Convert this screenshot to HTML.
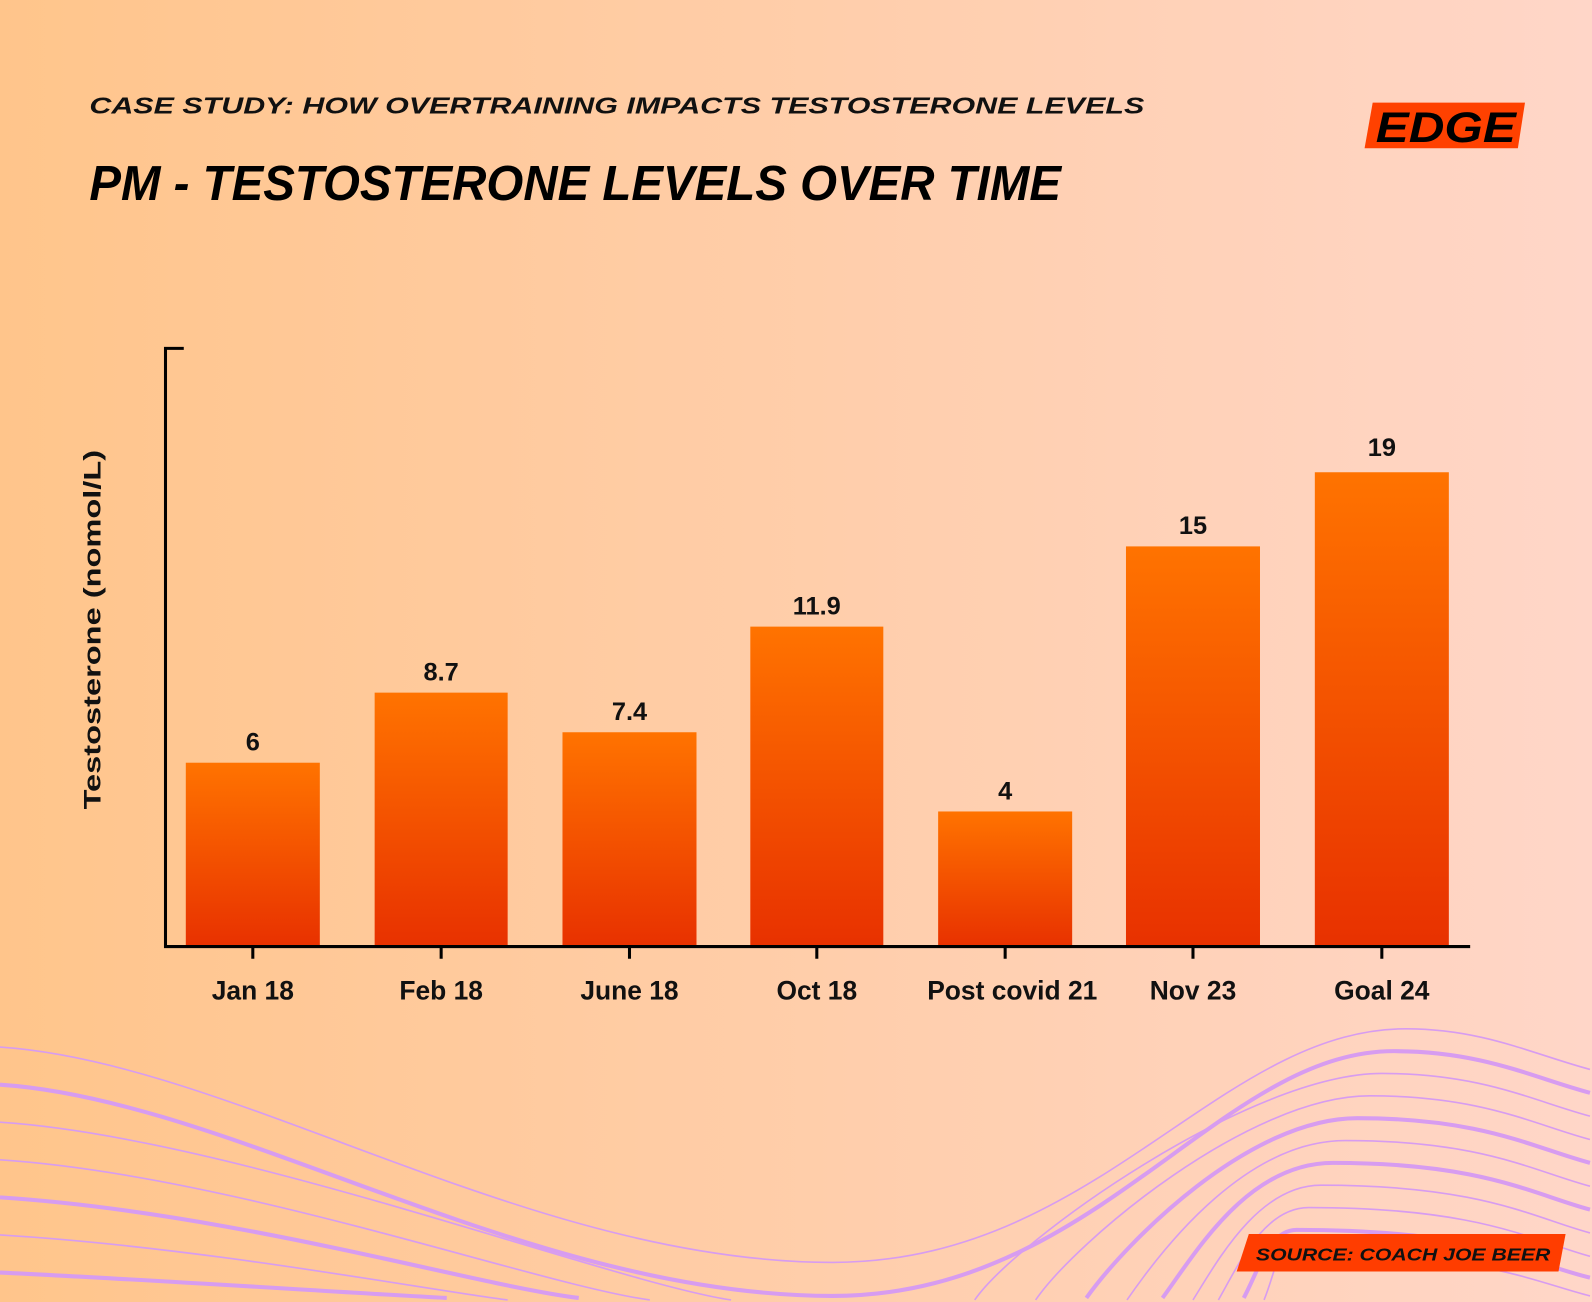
<!DOCTYPE html>
<html><head><meta charset="utf-8"><style>
html,body{margin:0;padding:0;width:1592px;height:1302px;overflow:hidden}
svg{display:block}
text{font-family:"Liberation Sans",sans-serif;font-weight:bold}
</style></head><body>
<svg width="1592" height="1302" viewBox="0 0 1568 1282" preserveAspectRatio="none" overflow="hidden" xmlns="http://www.w3.org/2000/svg">
<defs>
<linearGradient id="bg" x1="0" x2="1" y1="0" y2="0"><stop offset="0" stop-color="#ffc58b"/><stop offset="1" stop-color="#ffd6c8"/></linearGradient>
<linearGradient id="bar" x1="0" x2="0" y1="0" y2="1"><stop offset="0" stop-color="#ff7300"/><stop offset="1" stop-color="#e83100"/></linearGradient>
</defs>
<rect width="1568" height="1282" fill="url(#bg)"/>
<g fill="none" stroke="#d79cf0">
<path stroke-width="1.6" d="M0,1031 C230,1046 520,1243 820,1243 C1080,1243 1200,1013 1385,1013 C1460,1013 1510,1038 1566,1053"/>
<path stroke-width="4" d="M0,1068 C230,1083 520,1276 820,1276 C1080,1276 1200,1035 1373,1035 C1460,1035 1510,1061 1566,1076"/>
<path stroke-width="1.6" d="M0,1105 C230,1120 600,1262 720,1280 M960,1280 C1000,1222 1230,1057 1361,1057 C1460,1057 1510,1084 1566,1099"/>
<path stroke-width="1.6" d="M0,1142 C230,1157 530,1265 640,1280 M1020,1280 C1060,1222 1230,1079 1349,1079 C1460,1079 1510,1107 1566,1122"/>
<path stroke-width="4" d="M0,1179 C230,1194 470,1266 570,1278 M1070,1278 C1110,1222 1230,1101 1337,1101 C1460,1101 1510,1130 1566,1145"/>
<path stroke-width="1.6" d="M0,1216 C200,1228 420,1270 500,1280 M1110,1280 C1150,1222 1230,1123 1325,1123 C1460,1123 1510,1153 1566,1168"/>
<path stroke-width="4" d="M0,1253 C150,1260 360,1274 440,1278 M1145,1278 C1180,1230 1230,1145 1313,1145 C1460,1145 1510,1176 1566,1191"/>
<path stroke-width="1.6" d="M1175,1280 C1200,1240 1240,1167 1301,1167 C1460,1167 1510,1199 1566,1214"/>
<path stroke-width="1.6" d="M1200,1280 C1220,1245 1245,1189 1289,1189 C1460,1189 1510,1222 1566,1237"/>
<path stroke-width="4" d="M1225,1278 C1240,1250 1250,1211 1277,1211 C1460,1211 1510,1245 1566,1258"/>
<path stroke-width="1.6" d="M1245,1280 C1255,1255 1258,1233 1265,1233 C1460,1233 1510,1262 1566,1276"/>
</g>
<text x="88" y="112" font-size="23" font-style="italic" textLength="1039" lengthAdjust="spacingAndGlyphs" fill="#111">CASE STUDY: HOW OVERTRAINING IMPACTS TESTOSTERONE LEVELS</text>
<text x="88" y="197" font-size="48" font-style="italic" textLength="957" lengthAdjust="spacingAndGlyphs" fill="#000">PM - TESTOSTERONE LEVELS OVER TIME</text>
<polygon points="1352,101 1502,101 1495,146 1344,146" fill="#ff4100"/>
<text x="1355" y="140" font-size="42" font-style="italic" textLength="138" lengthAdjust="spacingAndGlyphs" fill="#000">EDGE</text>
<polygon points="1230,1215 1542,1215 1535,1252 1218,1252" fill="#ff3d00"/>
<text x="1237" y="1241" font-size="17" font-style="italic" textLength="290" lengthAdjust="spacingAndGlyphs" fill="#111">SOURCE: COACH JOE BEER</text>
<g fill="url(#bar)">
<rect x="183" y="751" width="132" height="181"/>
<rect x="369" y="682" width="131" height="250"/>
<rect x="554" y="721" width="132" height="211"/>
<rect x="739" y="617" width="131" height="315"/>
<rect x="924" y="799" width="132" height="133"/>
<rect x="1109" y="538" width="132" height="394"/>
<rect x="1295" y="465" width="132" height="467"/>
</g>
<g stroke="#000" stroke-width="3" fill="none">
<path d="M181,343 H163 V932 H1448"/>
<path d="M249,932V944 M434.5,932V944 M620,932V944 M804.5,932V944 M990,932V944 M1175,932V944 M1361,932V944"/>
</g>
<g font-size="25" text-anchor="middle" fill="#111">
<text x="249" y="739">6</text><text x="434.5" y="670">8.7</text><text x="620" y="709">7.4</text>
<text x="804.5" y="605">11.9</text><text x="990" y="787">4</text><text x="1175" y="526">15</text><text x="1361" y="449">19</text>
</g>
<g font-size="26" text-anchor="middle" fill="#111">
<text x="249" y="984">Jan 18</text><text x="434.5" y="984">Feb 18</text><text x="620" y="984">June 18</text>
<text x="804.5" y="984">Oct 18</text><text x="997" y="984">Post covid 21</text><text x="1175" y="984">Nov 23</text><text x="1361" y="984">Goal 24</text>
</g>
<text transform="translate(99,620) rotate(-90)" font-size="24" text-anchor="middle" textLength="354" lengthAdjust="spacingAndGlyphs" fill="#111">Testosterone (nomol/L)</text>
</svg>
</body></html>
